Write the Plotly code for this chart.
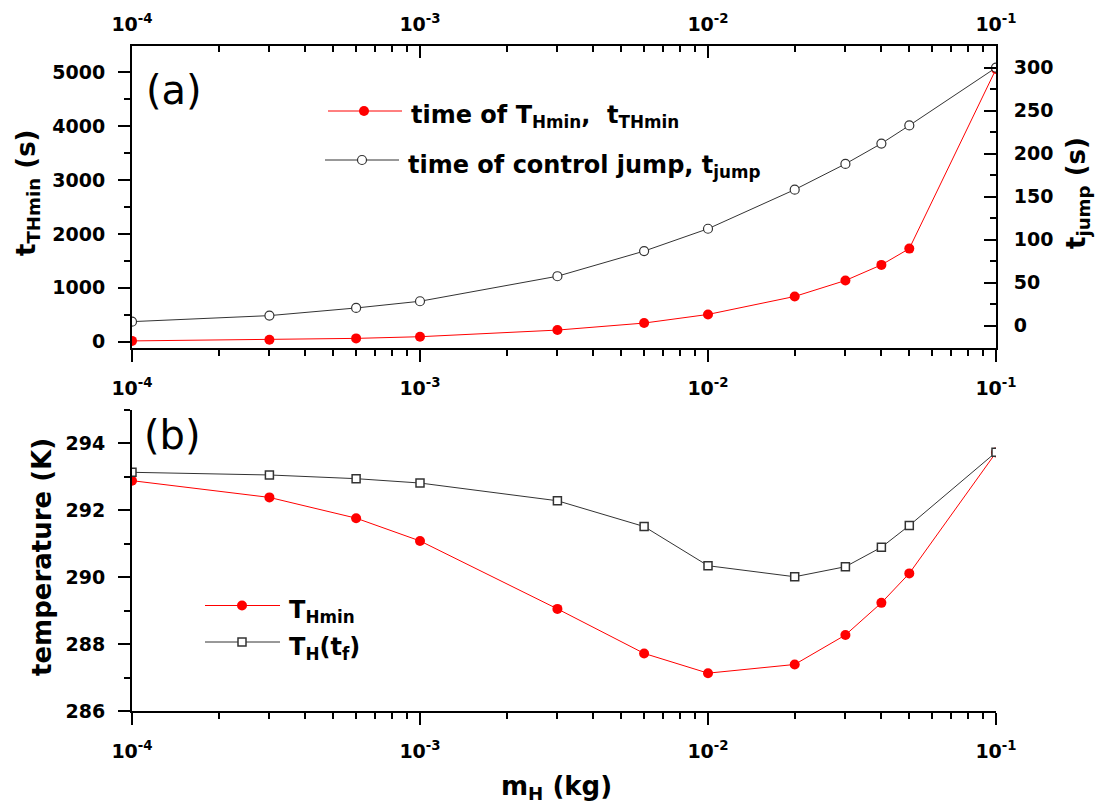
import plotly.graph_objects as go

# ---------------- data ----------------
m_H = [1e-4, 3e-4, 6e-4, 1e-3, 3e-3, 6e-3, 1e-2, 2e-2, 3e-2, 4e-2, 5e-2, 1e-1]
t_THmin = [15, 37, 62, 93, 216, 346, 506, 840, 1136, 1426, 1728, 5060]
t_jump = [4.7, 11.7, 20.6, 28.4, 57.5, 86.7, 112.7, 158.2, 188.1, 211.8, 232.8, 300]
T_Hmin = [292.88, 292.38, 291.76, 291.08, 289.05, 287.72, 287.13, 287.39, 288.27, 289.23, 290.11, 293.72]
T_H_tf = [293.13, 293.05, 292.94, 292.81, 292.28, 291.51, 290.34, 290.01, 290.31, 290.89, 291.54, 293.73]

x_tickvals = [1e-4, 1e-3, 1e-2, 1e-1]
x_ticktext = ["10<sup>-4</sup>", "10<sup>-3</sup>", "10<sup>-2</sup>", "10<sup>-1</sup>"]
x_minor = [m * 10.0 ** e for e in (-4, -3, -2) for m in range(2, 10)]

# ---------------- layout geometry (screen px; page body has an 8px margin) ----------------
OFF = 8
W, H = 1104 - 2 * OFF, 811 - 2 * OFF
X_L, X_R, Y_T, Y_B = 132, 996, 46, 711          # plot frame on screen
ML, MT = X_L - OFF, Y_T - OFF
MR, MB = W - (X_R - OFF), H - (Y_B - OFF)
PW, PH = W - ML - MR, H - MT - MB
FONT = "DejaVu Sans"
RED = "#ff0000"
DARK = "#333333"


def px(xs):
    return (xs - X_L) / PW


def py(ys):
    return (Y_B - ys) / PH


top_dom = [py(347.7), 1.0]
bot_dom = [0.0, py(409.7)]

tickfont = dict(family=FONT, size=19, color="black", weight="bold")

fig = go.Figure()

# top panel
fig.add_trace(go.Scatter(x=m_H, y=t_THmin, mode="lines+markers", xaxis="x", yaxis="y",
                         line=dict(color=RED, width=1),
                         marker=dict(symbol="circle", size=10, color=RED, line=dict(width=0)),
                         name="time of T_Hmin, t_THmin", showlegend=False))
fig.add_trace(go.Scatter(x=m_H, y=t_jump, mode="lines+markers", xaxis="x", yaxis="y2",
                         line=dict(color=DARK, width=1),
                         marker=dict(symbol="circle", size=9, color="white", line=dict(color=DARK, width=1.2)),
                         name="time of control jump, t_jump", showlegend=False))
# invisible carrier so the top (mirror) axis is drawn
fig.add_trace(go.Scatter(x=m_H, y=t_THmin, mode="markers", xaxis="x3", yaxis="y",
                         marker=dict(opacity=0), hoverinfo="skip", showlegend=False))
# bottom panel
fig.add_trace(go.Scatter(x=m_H, y=T_Hmin, mode="lines+markers", xaxis="x2", yaxis="y3",
                         line=dict(color=RED, width=1),
                         marker=dict(symbol="circle", size=10, color=RED, line=dict(width=0)),
                         name="T_Hmin", showlegend=False))
fig.add_trace(go.Scatter(x=m_H, y=T_H_tf, mode="lines+markers", xaxis="x2", yaxis="y3",
                         line=dict(color=DARK, width=1),
                         marker=dict(symbol="square", size=8, color="white", line=dict(color=DARK, width=1.5)),
                         name="T_H(t_f)", showlegend=False))

common_x = dict(type="log", range=[-4, -1], tickmode="array", tickvals=x_tickvals, ticktext=x_ticktext,
                showline=True, linecolor="black", linewidth=2, showgrid=False, zeroline=False,
                ticklen=12, tickwidth=2, tickcolor="black", tickfont=tickfont, automargin=False)
common_y = dict(showline=True, linecolor="black", linewidth=2, showgrid=False, zeroline=False,
                ticklen=12, tickwidth=2, tickcolor="black", tickfont=tickfont, automargin=False,
                tickmode="array")

fig.update_layout(
    width=W, height=H, margin=dict(l=ML, r=MR, t=MT, b=MB, autoexpand=False),
    paper_bgcolor="white", plot_bgcolor="white", showlegend=False,
    xaxis=dict(**common_x, anchor="y", domain=[0, 1], ticks="outside", ticklabelstandoff=10,
               minor=dict(tickmode="array", tickvals=x_minor, ticks="outside", ticklen=6, tickwidth=2, tickcolor="black")),
    xaxis3=dict(**common_x, anchor="y", overlaying="x", side="top", ticks="inside", ticklabelstandoff=5,
                minor=dict(tickmode="array", tickvals=x_minor, ticks="inside", ticklen=6, tickwidth=2, tickcolor="black")),
    xaxis2=dict(**common_x, anchor="y3", domain=[0, 1], ticks="outside", ticklabelstandoff=10,
                minor=dict(tickmode="array", tickvals=x_minor, ticks="outside", ticklen=6, tickwidth=2, tickcolor="black")),
    yaxis=dict(**common_y, domain=top_dom, anchor="x", range=[-111, 5488],
               tickvals=[0, 1000, 2000, 3000, 4000, 5000], ticks="outside", ticklabelstandoff=9,
               minor=dict(tickmode="array", tickvals=[500, 1500, 2500, 3500, 4500], ticks="outside",
                          ticklen=6, tickwidth=2, tickcolor="black")),
    yaxis2=dict(**common_y, overlaying="y", side="right", anchor="x", range=[-25.6, 325.2],
                tickvals=[0, 50, 100, 150, 200, 250, 300], ticks="inside", ticklabelstandoff=12,
                minor=dict(tickmode="array", tickvals=[-25, 25, 75, 125, 175, 225, 275, 325], ticks="inside",
                           ticklen=6, tickwidth=2, tickcolor="black")),
    yaxis3=dict(**common_y, domain=bot_dom, anchor="x2", range=[286, 295],
                tickvals=[286, 288, 290, 292, 294], ticks="outside", ticklabelstandoff=9,
                minor=dict(tickmode="array", tickvals=[287, 289, 291, 293, 295], ticks="outside",
                           ticklen=6, tickwidth=2, tickcolor="black")),
)

# ---------------- annotations (titles, panel labels, legend text) ----------------
ann = []


def add_text(text, x, y, size, bold=True, angle=0, xanchor="center", yanchor="middle"):
    ann.append(dict(text=text, x=px(x), y=py(y), xref="paper", yref="paper", showarrow=False,
                    textangle=angle, xanchor=xanchor, yanchor=yanchor,
                    font=dict(family=FONT, size=size, color="black", weight="bold" if bold else "normal")))


add_text("t<sub>THmin</sub> (s)", 27, 193, 26, angle=-90)
add_text("t<sub>jump</sub> (s)", 1077, 193, 26, angle=-90)
add_text("temperature (K)", 42, 557, 26, angle=-90)
add_text("m<sub>H</sub> (kg)", 556, 787, 26)
add_text("(a)", 174, 90, 40, bold=False)
add_text("(b)", 172, 435, 40, bold=False)

add_text("time of T<sub>Hmin</sub>,  t<sub>THmin</sub>", 409, 117, 24, xanchor="left")
add_text("time of control jump, t<sub>jump</sub>", 406, 166, 24, xanchor="left")
add_text("T<sub>Hmin</sub>", 287, 611, 24, xanchor="left")
add_text("T<sub>H</sub>(t<sub>f</sub>)", 287, 648, 24, xanchor="left")

fig.update_layout(annotations=ann)

# ---------------- legend samples (shapes) ----------------
shapes = []


def leg_line(x0, x1, y, color):
    shapes.append(dict(type="line", xref="paper", yref="paper", x0=px(x0), x1=px(x1), y0=py(y), y1=py(y),
                       line=dict(color=color, width=1)))


def leg_marker(kind, x, y, r, fill, edge, ew):
    shapes.append(dict(type=kind, xref="paper", yref="paper", xsizemode="pixel", ysizemode="pixel",
                       xanchor=px(x), yanchor=py(y), x0=-r, x1=r, y0=-r, y1=r,
                       fillcolor=fill, line=dict(color=edge, width=ew)))


leg_line(328, 402, 111, RED)
leg_marker("circle", 364, 111, 5, RED, RED, 0)
leg_line(325, 399, 160, DARK)
leg_marker("circle", 362, 160, 4.5, "white", DARK, 1.2)
leg_line(205, 280, 605.5, RED)
leg_marker("circle", 242, 605.5, 5, RED, RED, 0)
leg_line(205, 280, 642, DARK)
leg_marker("rect", 242, 642, 4, "white", DARK, 1.5)

fig.update_layout(shapes=shapes)

fig.write_html("out.html")
